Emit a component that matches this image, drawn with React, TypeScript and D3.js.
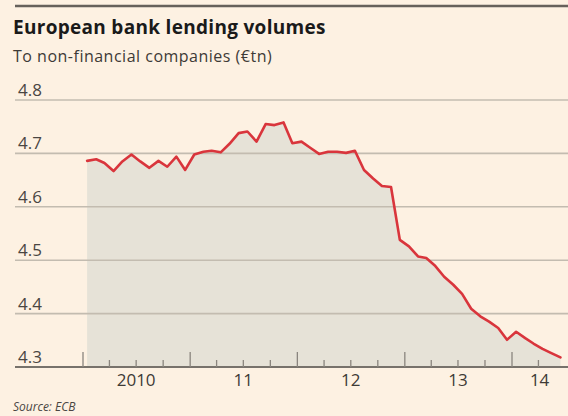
import React from "react";
import * as d3 from "d3";

const startMonth = "2010-01";
const values: number[] = [
  4.686, 4.689, 4.682, 4.667, 4.685, 4.698, 4.685, 4.673, 4.686, 4.675, 4.694, 4.669,
  4.698, 4.703, 4.705, 4.702, 4.718, 4.738, 4.741, 4.722, 4.755, 4.753, 4.758, 4.719,
  4.722, 4.71, 4.699, 4.703, 4.703, 4.701, 4.705, 4.669, 4.653, 4.639, 4.637, 4.538,
  4.526, 4.507, 4.504, 4.489, 4.469, 4.454, 4.437, 4.409, 4.395, 4.385, 4.373, 4.351,
  4.366, 4.354, 4.344, 4.334, 4.326, 4.318,
];
const yTicks: number[] = [4.3, 4.4, 4.5, 4.6, 4.7, 4.8];
const yearLabels: string[] = ["2010", "11", "12", "13", "14"];
const yearLabelDates: string[] = ["2010-07-01", "2011-07-01", "2012-07-01", "2013-07-01", "2014-04-05"];
const title = "European bank lending volumes";
const subtitle = "To non-financial companies (€tn)";
const source = "Source: ECB";

const W = 568;
const H = 416;

export default function App() {
  const parse = d3.timeParse("%Y-%m-%d");
  const start = d3.timeParse("%Y-%m")(startMonth) as Date;
  const data = values.map((v, i) => ({ date: d3.timeDay.offset(d3.timeMonth.offset(start, i), 14), value: v }));

  const x = d3
    .scaleTime()
    .domain([parse("2010-01-01") as Date, parse("2014-01-01") as Date])
    .range([83, 512]);
  const y = d3.scaleLinear().domain([4.3, 4.8]).range([367, 100]);

  const area = d3
    .area<{ date: Date; value: number }>()
    .x((d) => x(d.date))
    .y0(y(4.3))
    .y1((d) => y(d.value));
  const line = d3
    .line<{ date: Date; value: number }>()
    .x((d) => x(d.date))
    .y((d) => y(d.value));

  const ticks = d3.timeMonth.every(3)!.range(parse("2010-01-01") as Date, parse("2014-05-01") as Date);

  const font = "'Open Sans', sans-serif";

  return (
    <svg
      width={W}
      height={H}
      style={{ position: "absolute", left: 0, top: 0, display: "block" }}
      fontFamily={font}
    >
      <rect x={0} y={0} width={W} height={H} fill="#fdf1e2" />
      <line x1={15} x2={W} y1={6} y2={6} stroke="#66615b" strokeWidth={2.5} />
      <text x={13} y={34} fontSize={19} fontWeight={700} fill="#1a1a1a" letterSpacing={0.3}>
        {title}
      </text>
      <text x={13} y={62} fontSize={16} fill="#3d3a36" letterSpacing={0.5}>
        {subtitle}
      </text>

      <path d={area(data) || ""} fill="#e6e2d7" />

      {yTicks.map((t) => (
        <g key={t}>
          <line
            x1={15}
            x2={W}
            y1={y(t)}
            y2={y(t)}
            stroke={t === 4.3 ? "#77726b" : "#c3bcb0"}
            strokeWidth={t === 4.3 ? 2 : 1.6}
          />
          <text x={18} y={y(t) - 4} fontSize={17} fill="#4a4642">
            {d3.format(".1f")(t)}
          </text>
        </g>
      ))}

      {ticks.map((d, i) => {
        const major = d.getMonth() === 0;
        return (
          <line
            key={i}
            x1={x(d)}
            x2={x(d)}
            y1={y(4.3) - (major ? 15 : 7)}
            y2={y(4.3)}
            stroke="#8a857e"
            strokeWidth={1.3}
          />
        );
      })}

      {yearLabels.map((l, i) => (
        <text
          key={l}
          x={x(parse(yearLabelDates[i]) as Date)}
          y={386}
          fontSize={17}
          textAnchor="middle"
          fill="#3d3a36"
        >
          {l}
        </text>
      ))}

      <path
        d={line(data) || ""}
        fill="none"
        stroke="#d9353c"
        strokeWidth={2.6}
        strokeLinejoin="round"
        strokeLinecap="round"
      />

      <text x={13} y={411} fontSize={12} fontStyle="italic" fill="#4a4642">
        {source}
      </text>
    </svg>
  );
}
